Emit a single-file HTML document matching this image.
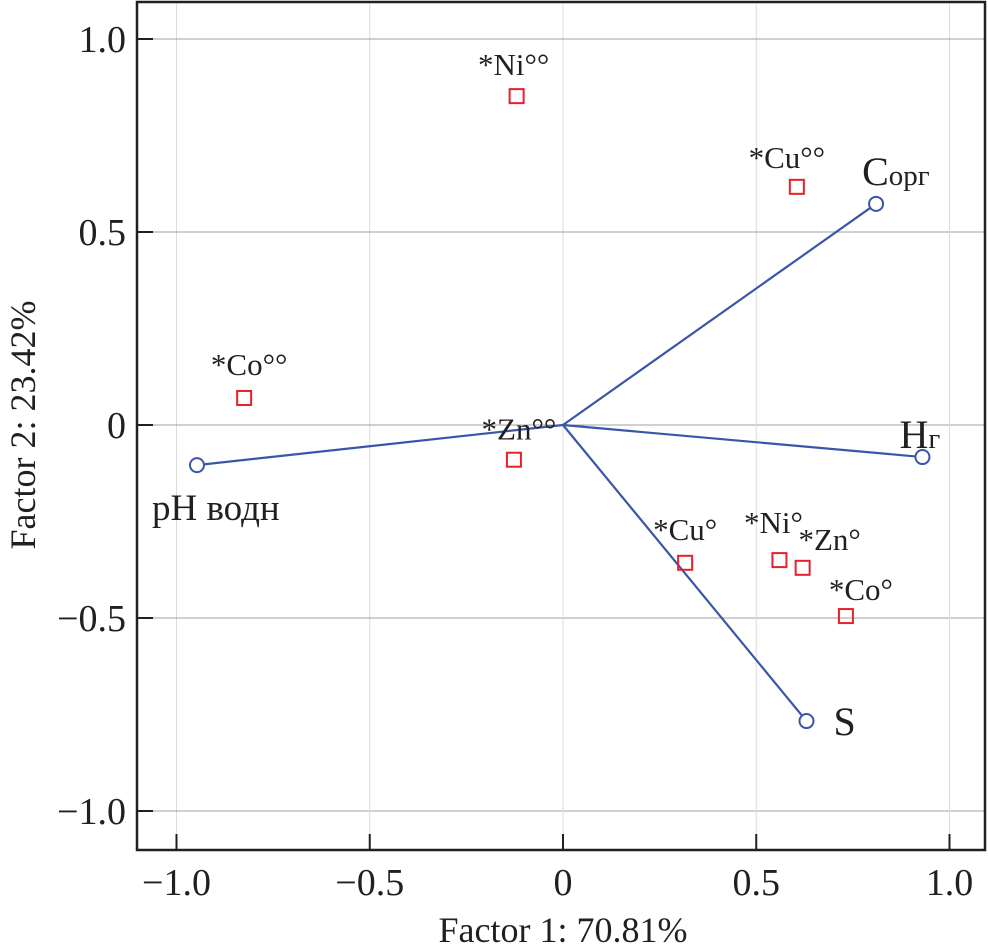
<!DOCTYPE html>
<html><head><meta charset="utf-8"><style>
body{margin:0;background:#fff}
svg{display:block}
text{font-family:"Liberation Serif",serif;fill:#231f20}
</style></head><body>
<svg id="chart" width="988" height="952">
<g id="grid"></g><g id="axes"></g><g id="marks"></g>
</svg>
<script>
const tickValues=[-1.0,-0.5,0,0.5,1.0];
const tickLabels=["\u22121.0","\u22120.5","0","0.5","1.0"];
const vectorNames=["Copr","Hg","S","pH"];
const vectorX=[0.81,0.93,0.63,-0.947];
const vectorY=[0.573,-0.083,-0.767,-0.104];
const pointNames=["*Ni\u00b0\u00b0","*Cu\u00b0\u00b0","*Co\u00b0\u00b0","*Zn\u00b0\u00b0","*Cu\u00b0","*Ni\u00b0","*Zn\u00b0","*Co\u00b0"];
const pointX=[-0.12,0.605,-0.825,-0.127,0.316,0.56,0.62,0.732];
const pointY=[0.852,0.617,0.07,-0.09,-0.357,-0.35,-0.37,-0.495];

const NS="http://www.w3.org/2000/svg";
const L=137,R=985,T=2,B=850;
const sx=v=>563+v*386.5, sy=v=>425-v*386;
function mk(tag,attrs,parent,txt){const e=document.createElementNS(NS,tag);for(const k in attrs)e.setAttribute(k,attrs[k]);if(txt!==undefined)e.textContent=txt;parent.appendChild(e);return e;}
const grid=document.getElementById('grid'),axes=document.getElementById('axes'),marks=document.getElementById('marks');
tickValues.forEach((v,i)=>{
  const gx=mk('line',{x1:sx(v),x2:sx(v),y1:T,y2:B,stroke:'#dcdcdc','stroke-width':1},grid);
  
  
  const gy=mk('line',{x1:L,x2:R,y1:sy(v),y2:sy(v),stroke:'#a0a0a0','stroke-width':1},grid);
  
  
  const tx=mk('line',{x1:sx(v),x2:sx(v),y1:B,y2:B-16,stroke:'#231f20','stroke-width':2},axes);
  
  
  const ty=mk('line',{x1:L,x2:L+16,y1:sy(v),y2:sy(v),stroke:'#231f20','stroke-width':2},axes);
  
  
  const lx=mk('text',{x:sx(v),y:895,'text-anchor':'middle','font-size':38},axes,tickLabels[i]);
  
  
  const ly=mk('text',{x:126,y:sy(v)+13,'text-anchor':'end','font-size':38},axes,tickLabels[i]);
  
  
});
const frame=mk('rect',{x:L,y:T,width:R-L,height:B-T,fill:'none',stroke:'#231f20','stroke-width':2.5},axes);


const xt=mk('text',{x:563,y:942,'text-anchor':'middle','font-size':36},axes,'Factor 1: 70.81%');


const yt=mk('text',{x:0,y:0,'text-anchor':'middle','font-size':36,transform:'translate(35,425) rotate(-90)'},axes,'Factor 2: 23.42%');



const vecLabelOff=[[-14,-19],[-23,-9],[27,14],[-45,55]];
vectorNames.forEach((n,i)=>{
  const x=sx(vectorX[i]),y=sy(vectorY[i]);
  const ln=mk('line',{x1:sx(0),y1:sy(0),x2:x,y2:y,stroke:'#3a56a8','stroke-width':2.2},marks);
  
  
  const c=mk('circle',{cx:x,cy:y,r:7,fill:'#fff',stroke:'#3a56a8','stroke-width':2},marks);
  
  
  const t=mk('text',{x:x+vecLabelOff[i][0],y:y+vecLabelOff[i][1],'font-size':40},marks);
  
  
  if(n==='Copr'){t.innerHTML='C<tspan font-size="29">орг</tspan>';}
  else if(n==='Hg'){t.innerHTML='H<tspan font-size="29">г</tspan>';}
  else if(n==='pH'){t.setAttribute('font-size','37');t.textContent='pH водн';}
  else t.textContent=n;
});
const labelOff=[[-3,-21],[-10,-19],[5,-23],[5,-20],[0,-23],[-6,-27],[27,-18],[15,-16]];
pointNames.forEach((n,i)=>{
  const x=sx(pointX[i]),y=sy(pointY[i]);
  const r=mk('rect',{x:x-7,y:y-7,width:14,height:14,fill:'none',stroke:'#e8202a','stroke-width':2},marks);
  
  
  const t=mk('text',{x:x+labelOff[i][0],y:y+labelOff[i][1],'text-anchor':'middle','font-size':31},marks,n);
  
  
});
</script>
</body></html>
